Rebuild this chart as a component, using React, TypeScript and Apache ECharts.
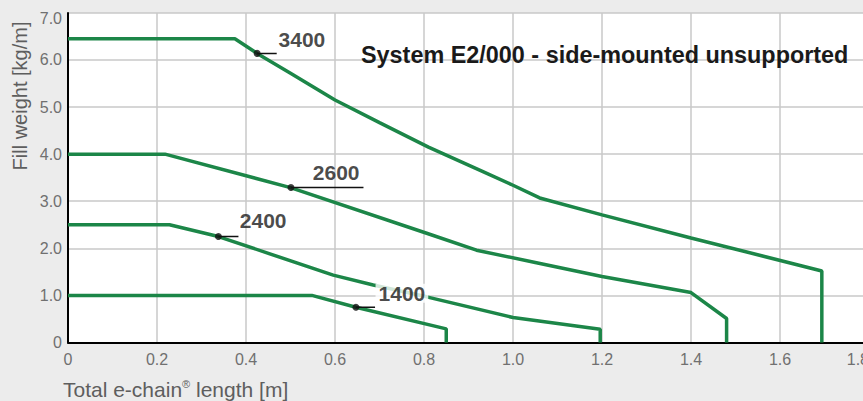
import React, { useEffect, useRef } from "react";
import * as echarts from "echarts";

// Curves: [total e-chain length (m), fill weight (kg/m)]
const curve3400 = [[0, 6.45], [0.375, 6.45], [0.425, 6.14], [0.5, 5.72], [0.6, 5.15], [0.7, 4.67], [0.81, 4.15], [0.93, 3.64], [1.0, 3.34], [1.06, 3.07], [1.2, 2.71], [1.4, 2.22], [1.694, 1.52], [1.694, 0]];
const curve2600 = [[0, 4.0], [0.218, 4.0], [0.5, 3.29], [0.806, 2.32], [0.918, 1.96], [1.05, 1.7], [1.2, 1.4], [1.4, 1.06], [1.48, 0.51], [1.48, 0]];
const curve2400 = [[0, 2.5], [0.228, 2.5], [0.338, 2.25], [0.596, 1.43], [0.686, 1.22], [0.806, 0.97], [1.0, 0.53], [1.196, 0.28], [1.196, 0]];
const curve1400 = [[0, 1.0], [0.548, 1.0], [0.647, 0.75], [0.85, 0.29], [0.85, 0]];
const curves = [curve3400, curve2600, curve2400, curve1400];

// Annotations
const annLabels = ["3400", "2600", "2400", "1400"];
const annDotX = [0.425, 0.501, 0.338, 0.647];
const annDotY = [6.14, 3.29, 2.25, 0.75];
const annLeaderEndX = [0.469, 0.664, 0.383, 0.69];
const annLabelX = [0.472, 0.549, 0.385, 0.69];
const annLabelY = [6.44, 3.62, 2.6, 1.045];

const xTicks = { min: 0, max: 1.8, interval: 0.2 };
const yTicks = { min: 0, max: 7, interval: 1 };

const titleText = "System E2/000 - side-mounted unsupported";
const xName = "Total e-chain{s|®} length [m]";
const yName = "Fill weight [kg/m]";

const GREEN = "#1c8648";
const FONT = "'Liberation Sans', Arial, sans-serif";

export default function App() {
  const ref = useRef<HTMLDivElement>(null);
  useEffect(() => {
    if (!ref.current) return;
    const chart = echarts.init(ref.current, null, { renderer: "svg" });
    const fmt = (v: number) => (v === 0 ? "0" : v.toFixed(1));
    const series: any[] = [];
    curves.forEach((c) => {
      series.push({
        type: "line",
        data: c,
        showSymbol: false,
        symbol: "none",
        lineStyle: { color: GREEN, width: 3.5 },
        z: 2,
      });
    });
    annLabels.forEach((_, i) => {
      series.push({
        type: "line",
        data: [[annDotX[i], annDotY[i]], [annLeaderEndX[i], annDotY[i]]],
        symbol: "none",
        lineStyle: { color: "#111", width: 1.5 },
        z: 3,
      });
    });
    series.push({
      type: "scatter",
      data: annDotX.map((x, i) => [x, annDotY[i]]),
      symbolSize: 7,
      itemStyle: { color: "#111" },
      z: 4,
    });
    series.push({
      type: "scatter",
      data: annLabelX.map((x, i) => ({
        value: [x, annLabelY[i]],
        label: i === 3 ? { backgroundColor: "#fff", padding: [0, 3, 0, 3], lineHeight: 19 } : {},
      })),
      symbolSize: 1,
      itemStyle: { color: "rgba(0,0,0,0)" },
      label: {
        show: true,
        position: "right",
        distance: 0,
        formatter: (p: any) => annLabels[p.dataIndex],
        fontFamily: FONT,
        fontSize: 21,
        fontWeight: "bold",
        color: "#1a1a1a",
      },
      z: 6,
    });

    chart.setOption({
      animation: false,
      backgroundColor: "#ececec",
      title: {
        text: titleText,
        left: 361,
        top: 43,
        padding: 0,
        textStyle: { fontFamily: FONT, fontSize: 23.4, fontWeight: "bold", color: "#1a1a1a", lineHeight: 24 },
      },
      grid: {
        left: 68,
        top: 12.9,
        right: -6,
        bottom: 58.5,
        show: true,
        backgroundColor: "#ffffff",
        borderWidth: 0,
        outerBoundsMode: "none",
      },
      xAxis: {
        type: "value",
        ...xTicks,
        axisLine: { show: true, onZero: false, lineStyle: { color: "#000", width: 2 } },
        axisTick: { show: false },
        splitLine: { show: true, lineStyle: { color: "#c8c8c8", width: 1.5 } },
        axisLabel: { formatter: fmt, fontFamily: FONT, fontSize: 16, color: "#707070", margin: 9, alignMaxLabel: "right" },
      },
      yAxis: {
        type: "value",
        ...yTicks,
        axisLine: { show: true, onZero: false, lineStyle: { color: "#000", width: 2 } },
        axisTick: { show: false },
        splitLine: { show: true, lineStyle: { color: "#c8c8c8", width: 1.5 } },
        axisLabel: {
          formatter: (v: number) => (v === 7 ? "{t|7.0}" : fmt(v)),
          fontFamily: FONT,
          fontSize: 16,
          color: "#707070",
          margin: 6,
          rich: { t: { fontFamily: FONT, fontSize: 16, color: "#707070", padding: [12, 0, 0, 0] } },
        },
      },
      graphic: [
        {
          type: "text",
          x: 20,
          y: 96,
          rotation: Math.PI / 2,
          style: {
            text: yName,
            fontFamily: FONT,
            fontSize: 20,
            fill: "#5e5e5e",
            align: "center",
            verticalAlign: "middle",
          },
        },
        {
          type: "text",
          x: 63,
          y: 389,
          style: {
            text: xName,
            fontFamily: FONT,
            fontSize: 21,
            fill: "#5e5e5e",
            align: "left",
            verticalAlign: "middle",
            rich: { s: { fontSize: 11, verticalAlign: "top", fill: "#5e5e5e", fontFamily: FONT, padding: [0, 0, 8, 0] } },
          },
        },
      ],
      series,
    });
    return () => chart.dispose();
  }, []);
  return <div ref={ref} style={{ position: "fixed", left: 0, top: 0, width: 863, height: 401 }} />;
}
